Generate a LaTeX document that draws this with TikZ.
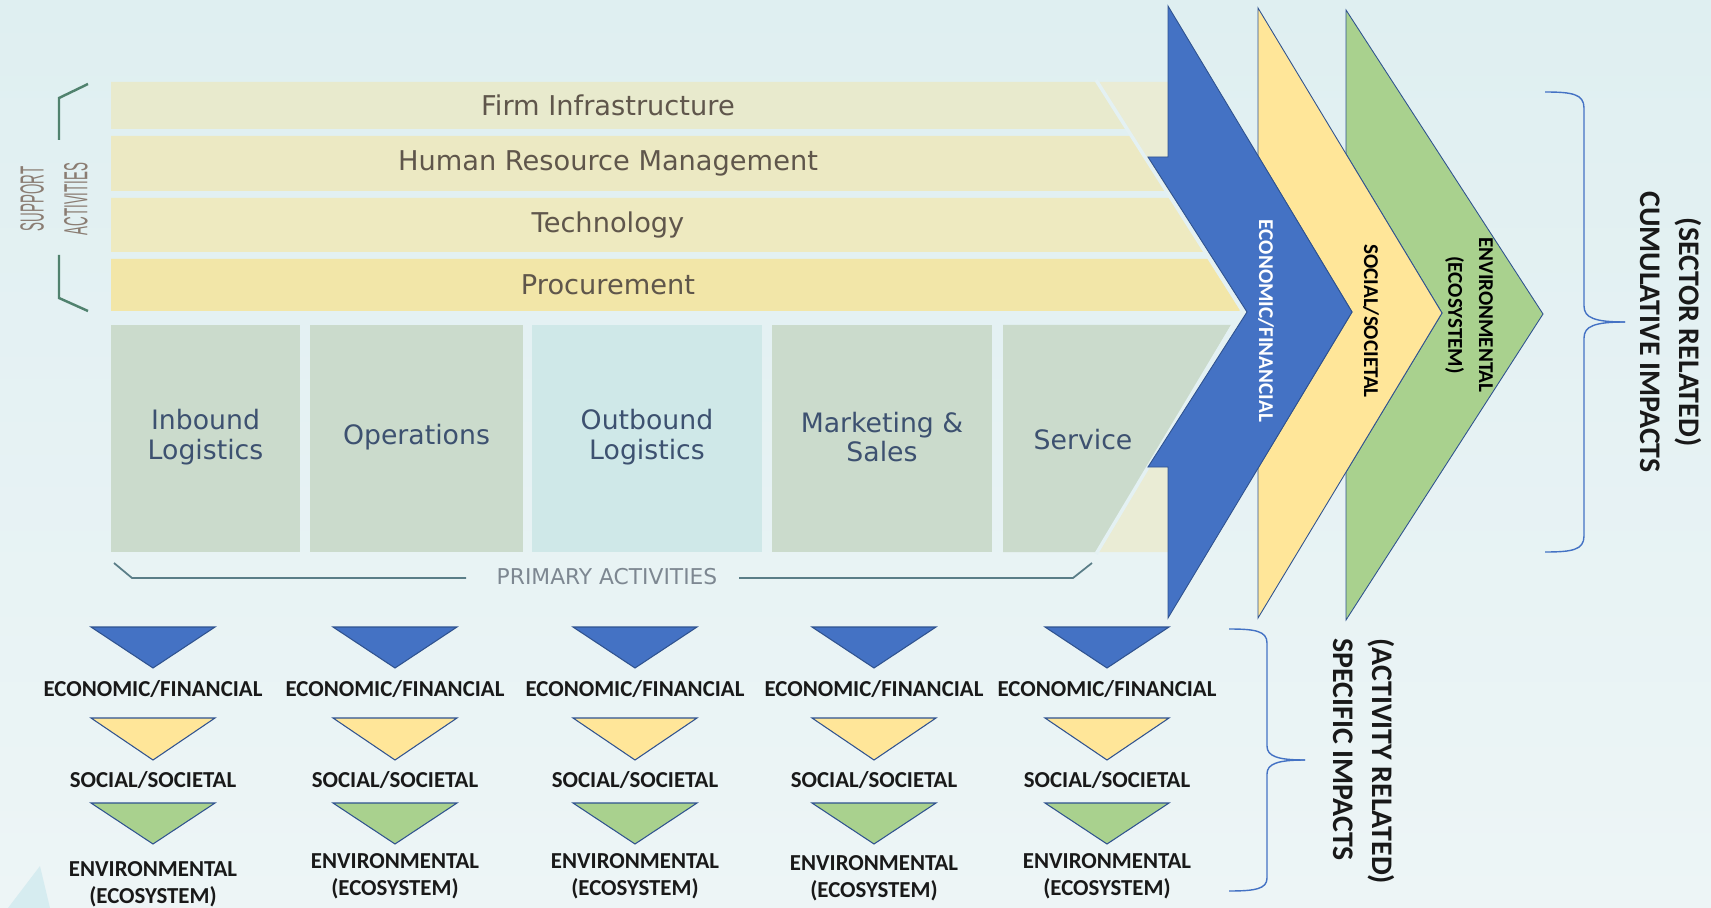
\documentclass[tikz,border=0pt]{standalone}
\usepackage{fontspec}
\usepackage{graphicx}
\setmainfont{DejaVu Sans}
\newfontfamily\calfont{Carlito}
\newfontfamily\narrowfont{Liberation Sans}

\definecolor{bgtop}{RGB}{223,239,241}
\definecolor{bgbot}{RGB}{237,245,246}
\definecolor{gapcol}{RGB}{228,241,243}
\definecolor{firmcol}{RGB}{232,234,205}
\definecolor{hrcol}{RGB}{236,233,195}
\definecolor{techcol}{RGB}{238,234,192}
\definecolor{proccol}{RGB}{242,230,168}
\definecolor{margincol}{RGB}{234,236,213}
\definecolor{primcol}{RGB}{203,219,204}
\definecolor{outcol}{RGB}{207,232,232}
\definecolor{econblue}{RGB}{68,114,196}
\definecolor{socyellow}{RGB}{255,230,153}
\definecolor{envgreen}{RGB}{169,209,142}
\definecolor{edgeblue}{RGB}{47,82,143}
\definecolor{supptext}{RGB}{95,86,75}
\definecolor{primtext}{RGB}{61,81,112}
\definecolor{bracketgreen}{RGB}{80,130,110}
\definecolor{bracketteal}{RGB}{90,125,135}
\definecolor{labelgrey}{RGB}{125,135,145}
\definecolor{suppgrey}{RGB}{138,124,114}
\definecolor{decocol}{RGB}{214,236,240}

\begin{document}
\begin{tikzpicture}[x=0.2mm, y=-0.2mm,
    supbar/.style={font=\fontsize{15.5}{18}\selectfont, text=supptext},
    primlabel/.style={font=\fontsize{15.2}{17}\selectfont, text=primtext, align=center},
    chevtext/.style={font=\calfont\bfseries\fontsize{12}{17}\selectfont, rotate=-90, align=center},
    impact/.style={font=\calfont\bfseries\fontsize{13}{15.4}\selectfont, text=black!90, align=center},
    sidetitle/.style={font=\calfont\bfseries\fontsize{17}{22.2}\selectfont, text=black!90, rotate=-90},
    chev/.style={draw=edgeblue, line width=0.5pt, line join=miter},
    tri/.style={draw=edgeblue, line width=0.6pt},
    brace/.style={draw=econblue, line width=0.8pt}]
    \useasboundingbox (0,0) rectangle (1711,908);

    % Background
    \shade[top color=bgtop, bottom color=bgbot] (0,0) rectangle (1711,908);
    \fill[decocol] (8,908) -- (40,866) -- (50,908) -- cycle;

    % Margin area behind the chevrons
    \fill[margincol] (1097,82) -- (1172,82) -- (1172,198) -- cycle;
    \fill[margincol] (1172,430) -- (1172,552) -- (1097,552) -- cycle;

    % Support activities
    \foreach \top/\bot/\col/\name/\txt in {82/129/firmcol/firm/Firm Infrastructure,
        136/191/hrcol/hrm/Human Resource Management,
        198/252/techcol/tech/Technology,
        259/311/proccol/proc/Procurement} {
        \fill[\col] (111,\top) -- ({1097+(\top-82)*0.627},\top)
            -- ({1097+(\bot-82)*0.627},\bot) -- (111,\bot) -- cycle;
        \node[supbar] (\name) at (608,{(\top+\bot)/2}) {\txt};
    }

    % Primary activities
    \foreach \l/\r/\col/\name/\txt in {111/300/primcol/inbound/{Inbound\\Logistics},
        310/523/primcol/operations/Operations,
        532/762/outcol/outbound/{Outbound\\Logistics},
        772/992/primcol/marketing/{Marketing \&\\Sales}} {
        \fill[\col] (\l,325) rectangle (\r,552);
        \node[primlabel] (\name) at ({(\l+\r)/2},437) {\txt};
    }
    \fill[primcol] (1003,325) -- (1231,325) -- (1097,552) -- (1003,552) -- cycle;
    \node[primlabel] (service) at (1083,440) {Service};

    % Light edge of the value chain
    \draw[gapcol, line width=2pt] (1096,80) -- (1242,310) -- (1096,554);

    % Support bracket
    \draw[bracketgreen, line width=1.4pt] (88,84) -- (59,98) -- (59,140);
    \draw[bracketgreen, line width=1.4pt] (59,255) -- (59,298) -- (88,311);
    \node[rotate=90, text=suppgrey, align=center,
        font=\narrowfont\fontsize{19}{25}\selectfont] (support) at (54,199)
        {\scalebox{0.4}[1]{SUPPORT}\\\scalebox{0.4}[1]{ACTIVITIES}};

    % Primary bracket
    \node[font=\fontsize{12.4}{15}\selectfont, text=labelgrey] (primary) at (607,577) {PRIMARY ACTIVITIES};
    \draw[bracketteal, line width=1pt] (114,563) -- (132,578) -- (466,578);
    \draw[bracketteal, line width=1pt] (739,578) -- (1073,578) -- (1092,563);

    % Cumulative impact chevrons
    \filldraw[chev, fill=envgreen] (1346,10) -- (1543,314) -- (1346,620) -- (1346,472)
        -- (1442,313) -- (1346,154) -- cycle;
    \filldraw[chev, fill=socyellow] (1258,8) -- (1442,313) -- (1258,618) -- (1258,468)
        -- (1352,312) -- (1258,156) -- cycle;
    \filldraw[chev, fill=econblue] (1168,6) -- (1352,312) -- (1168,618) -- (1168,467)
        -- (1148,467) -- (1247,312) -- (1148,157) -- (1168,157) -- cycle;
    \node[chevtext, text=white] (econchev) at (1266,321) {ECONOMIC/FINANCIAL};
    \node[chevtext, text=black] (socchev) at (1371,321) {SOCIAL/SOCIETAL};
    \node[chevtext, text=black, font=\calfont\bfseries\fontsize{12}{17.5}\selectfont] (envchev)
        at (1469,315) {ENVIRONMENTAL\\(ECOSYSTEM)};

    % Cumulative brace
    \draw[brace] (1545,92) .. controls (1572,92) and (1584,94) .. (1584,108) -- (1584,306)
        .. controls (1584,318) and (1595,322) .. (1625,322);
    \draw[brace] (1625,322) .. controls (1595,322) and (1584,326) .. (1584,338) -- (1584,536)
        .. controls (1584,550) and (1572,552) .. (1545,552);
    \node[sidetitle, align=center] (cumulative) at (1671,332) {(SECTOR RELATED)\\CUMULATIVE IMPACTS};

    % Specific impacts per activity
    \foreach \cx/\ey [count=\i] in {153/884, 395/876, 635/876, 874/878, 1107/876} {
        \filldraw[tri, fill=econblue] ({\cx-62},627) -- ({\cx+62},627) -- (\cx,668) -- cycle;
        \filldraw[tri, fill=socyellow] ({\cx-62},718) -- ({\cx+62},718) -- (\cx,760) -- cycle;
        \filldraw[tri, fill=envgreen] ({\cx-62},803) -- ({\cx+62},803) -- (\cx,844) -- cycle;
        \node[impact] (econ\i) at (\cx,689) {ECONOMIC/FINANCIAL};
        \node[impact] (soc\i) at (\cx,780) {SOCIAL/SOCIETAL};
        \node[impact] (env\i) at (\cx,\ey) {ENVIRONMENTAL\\(ECOSYSTEM)};
    }

    % Specific brace
    \draw[brace] (1229,629) .. controls (1255,629) and (1267,631) .. (1267,643) -- (1267,746)
        .. controls (1267,756) and (1277,760) .. (1305,760);
    \draw[brace] (1305,760) .. controls (1277,760) and (1267,764) .. (1267,774) -- (1267,878)
        .. controls (1267,889) and (1255,891) .. (1229,891);
    \node[sidetitle, align=left, anchor=west, inner sep=0pt] (specific) at (1364,638)
        {(ACTIVITY RELATED)\\SPECIFIC IMPACTS};

\end{tikzpicture}
\end{document}
